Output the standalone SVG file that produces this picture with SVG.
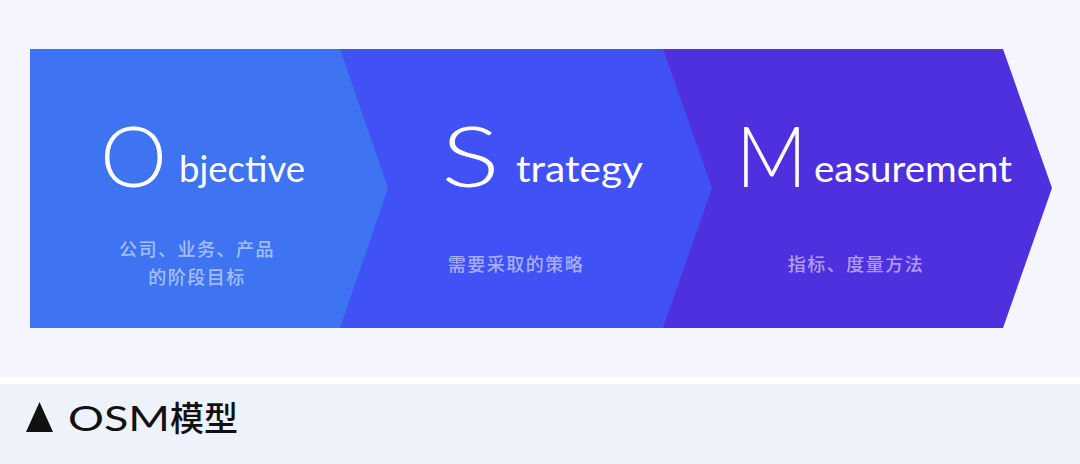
<svg xmlns="http://www.w3.org/2000/svg" width="1080" height="464" viewBox="0 0 1080 464">
<style>
.big{font-family:Lato,"Liberation Sans",sans-serif;font-weight:300;font-size:85px;fill:#ffffff}
.word{font-family:Lato,"Liberation Sans",sans-serif;font-weight:400;font-size:37px;fill:#ffffff}
.sub{font-family:"Noto Sans CJK SC","Noto Sans",sans-serif;font-weight:500;font-size:18px;fill:#ffffff;fill-opacity:0.55;text-anchor:middle;letter-spacing:1.5px}
.cap{font-family:"Noto Sans CJK SC","Liberation Sans",sans-serif;font-size:34px;fill:#111111}
</style>
<rect x="0" y="0" width="1080" height="377" fill="#f4f5fd"/>
<rect x="0" y="377" width="1080" height="7" fill="#ffffff"/>
<rect x="0" y="384" width="1080" height="80" fill="#eef2fb"/>
<g id="connectors"></g>
<g id="node-measurement">
<polygon points="663,49 1003,49 1052,188 1003,328 663,328" fill="#4e30de"/>
<text class="big" x="736" y="187" textLength="71" lengthAdjust="spacingAndGlyphs">M</text>
<text class="word" x="814" y="182" textLength="198" lengthAdjust="spacingAndGlyphs">easurement</text>
<text class="sub" x="856" y="271">指标、度量方法</text>
</g>
<g id="node-strategy">
<polygon points="340,49 663,49 712,188 663,328 340,328" fill="#4052f5"/>
<text class="big" x="441" y="187" textLength="59" lengthAdjust="spacingAndGlyphs">S</text>
<text class="word" x="516" y="182" textLength="127" lengthAdjust="spacingAndGlyphs">trategy</text>
<text class="sub" x="516" y="271">需要采取的策略</text>
</g>
<g id="node-objective">
<polygon points="30,49 340,49 388,188 340,328 30,328" fill="#3e74f1"/>
<text class="big" x="100" y="187" textLength="67" lengthAdjust="spacingAndGlyphs">O</text>
<text class="word" x="179" y="182" textLength="126" lengthAdjust="spacingAndGlyphs">bjective</text>
<text class="sub" x="197" y="256">公司、业务、产品</text>
<text class="sub" x="197" y="284">的阶段目标</text>
</g>
<g id="caption">
<polygon points="39.5,402 53,432 26,432" fill="#111111"/>
<text class="cap" x="68" y="431"><tspan font-family="Lato,'Liberation Sans',sans-serif" textLength="102" lengthAdjust="spacingAndGlyphs">OSM</tspan><tspan x="170" font-weight="500">模型</tspan></text>
</g>
</svg>
